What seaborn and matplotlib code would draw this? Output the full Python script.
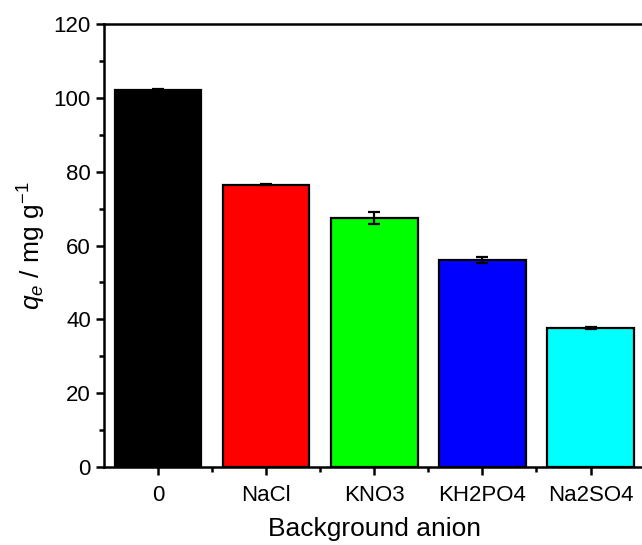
import matplotlib
matplotlib.use("Agg")
import matplotlib.pyplot as plt
import seaborn as sns
import pandas as pd
from matplotlib.ticker import MultipleLocator, FixedLocator

categories = ["0", "NaCl", "KNO3", "KH2PO4", "Na2SO4"]
values = [102.0, 76.5, 67.5, 56.2, 37.7]
errors = [0.5, 0.2, 1.7, 0.8, 0.3]
colors = ["#000000", "#FF0000", "#00FF00", "#0000FF", "#00FFFF"]

sns.set_style("ticks")
plt.rcParams["font.family"] = ["Liberation Sans", "DejaVu Sans"]
plt.rcParams["mathtext.fontset"] = "custom"
plt.rcParams["mathtext.rm"] = "Liberation Sans"
plt.rcParams["mathtext.it"] = "Liberation Sans:italic"
plt.rcParams["text.color"] = "black"
plt.rcParams["axes.labelcolor"] = "black"

df = pd.DataFrame({"anion": categories, "qe": values})

fig = plt.figure(figsize=(6.42, 5.45), dpi=100)
ax = fig.add_axes([0.162, 0.143, 0.842, 0.813])

sns.barplot(data=df, x="anion", y="qe", hue="anion", palette=colors,
            order=categories, hue_order=categories, legend=False,
            width=0.8, edgecolor="black", linewidth=1.6, saturation=1,
            errorbar=None, ax=ax)
ax.errorbar(range(len(categories)), values, yerr=errors, fmt="none",
            ecolor="black", elinewidth=1.6, capsize=4, capthick=1.6, zorder=5)

ax.set_xlim(-0.5, 4.5)
ax.set_ylim(0, 120)
ax.yaxis.set_major_locator(MultipleLocator(20))
ax.yaxis.set_minor_locator(MultipleLocator(10))
ax.xaxis.set_minor_locator(FixedLocator([0.5, 1.5, 2.5, 3.5]))

for side in ["left", "bottom", "top", "right"]:
    ax.spines[side].set_visible(True)
    ax.spines[side].set_linewidth(1.8)
    ax.spines[side].set_color("black")

ax.tick_params(axis="both", which="major", direction="out", length=6, width=1.8,
               labelsize=16, color="black", labelcolor="black", top=False, right=False)
ax.tick_params(axis="both", which="minor", direction="out", length=3.5, width=1.8,
               color="black", top=False, right=False)
ax.tick_params(axis="x", which="major", pad=7)

ax.set_xlabel("Background anion", fontsize=19, labelpad=8, color="black")
ax.set_ylabel(r"$\mathit{q}_\mathit{e}$ / mg g$^{-1}$", fontsize=19, labelpad=4,
              color="black")

fig.savefig("out.png", dpi=100, facecolor="white")
